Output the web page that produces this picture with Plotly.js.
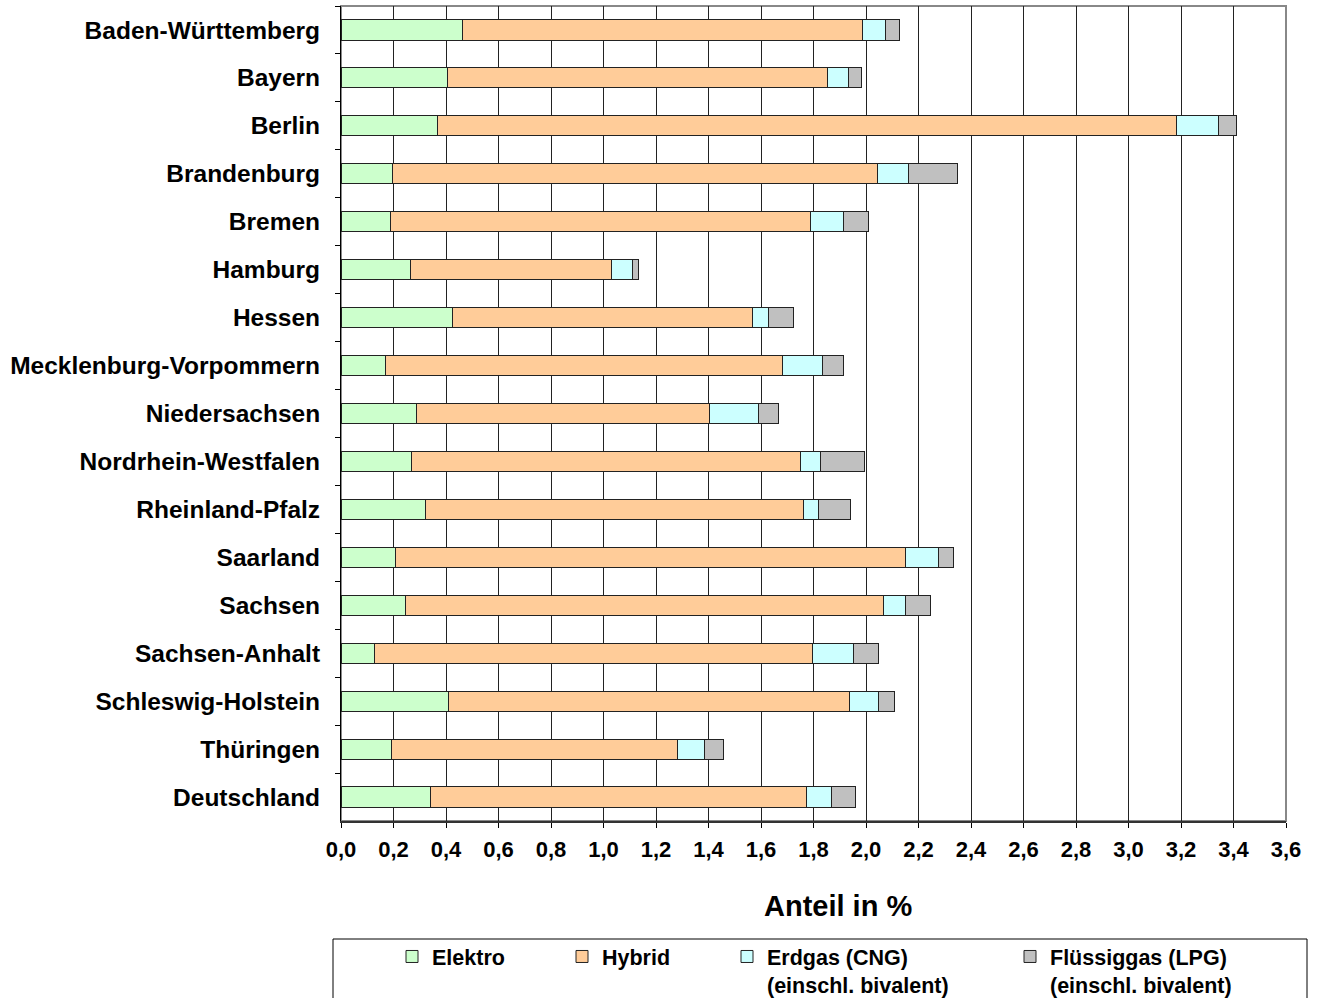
<!DOCTYPE html>
<html>
<head>
<meta charset="utf-8">
<script src="https://cdn.plot.ly/plotly-3.0.1.min.js"></script>
<style>
html,body{margin:0;padding:0;background:#fff;width:1318px;height:998px;overflow:hidden;}
#chart{width:1318px;height:998px;overflow:hidden;position:relative;}
</style>
</head>
<body>
<div id="chart"></div>
<script>
const categories = ["Baden-Württemberg","Bayern","Berlin","Brandenburg","Bremen","Hamburg","Hessen","Mecklenburg-Vorpommern","Niedersachsen","Nordrhein-Westfalen","Rheinland-Pfalz","Saarland","Sachsen","Sachsen-Anhalt","Schleswig-Holstein","Thüringen","Deutschland"];
const elektro = [0.464,0.407,0.366,0.196,0.188,0.263,0.426,0.169,0.286,0.270,0.323,0.206,0.244,0.129,0.411,0.191,0.340];
const hybrid  = [1.521,1.446,2.817,1.847,1.601,0.768,1.140,1.514,1.117,1.481,1.440,1.945,1.822,1.666,1.528,1.089,1.433];
const cng     = [0.090,0.082,0.161,0.117,0.126,0.080,0.064,0.150,0.188,0.076,0.057,0.126,0.085,0.159,0.110,0.105,0.095];
const lpg     = [0.051,0.048,0.067,0.188,0.096,0.022,0.092,0.080,0.077,0.169,0.121,0.056,0.095,0.095,0.060,0.073,0.092];
const seriesNames = ["Elektro","Hybrid","Erdgas (CNG)<br>(einschl. bivalent)","Flüssiggas (LPG)<br>(einschl. bivalent)"];
const tickVals = [0,0.2,0.4,0.6,0.8,1.0,1.2,1.4,1.6,1.8,2.0,2.2,2.4,2.6,2.8,3.0,3.2,3.4,3.6];

const FONT = '"Liberation Sans", Arial, Helvetica, sans-serif';
const colors = ["#CCFFCC","#FFCC99","#CCFFFF","#C0C0C0"];
const data = [elektro, hybrid, cng, lpg];
const legendIds = ["legend","legend2","legend3","legend4"];

const traces = data.map((vals, i) => ({
  type: 'bar',
  orientation: 'h',
  y: categories,
  x: vals,
  name: seriesNames[i],
  legend: legendIds[i],
  width: 0.42,
  marker: {color: colors[i], line: {color: '#222', width: 1}},
  hoverinfo: 'x+y+name'
}));

const W = 945, H = 815; // plot area size in px
const L = 341, T = 6;
function px(xp){ return (xp - L) / W; }
function py(yp){ return 1 - (yp - T) / H; }

const legendFont = {family: FONT, size: 21.5, color: '#000', weight: 700};
const textStarts = [429, 599, 764, 1047];
const legends = {};
legendIds.forEach((id, i) => {
  legends[id] = {
    xref: 'container', yref: 'container',
    x: (textStarts[i] - 37) / 1318, xanchor: 'left',
    y: 1 - 936 / 998, yanchor: 'top',
    orientation: 'v',
    bgcolor: 'rgba(0,0,0,0)', borderwidth: 0,
    font: legendFont,
    valign: 'top',
    tracegroupgap: 0
  };
});

const layout = Object.assign({
  width: 1318, height: 998,
  margin: {l: L, r: 1318 - 1286, t: T, b: 998 - 821, pad: 0, autoexpand: false},
  paper_bgcolor: '#fff', plot_bgcolor: '#fff',
  barmode: 'stack',
  separators: ', ',
  font: {family: FONT, color: '#000'},
  showlegend: true,
  xaxis: {
    range: [0, 3.6], tickvals: tickVals, tickformat: '.1f',
    showgrid: true, gridcolor: '#222', gridwidth: 1,
    ticks: 'outside', ticklen: 5, tickcolor: '#000', tickwidth: 1,
    showline: true, linecolor: '#333', linewidth: 2,
    zeroline: false,
    ticklabelstandoff: 3,
    tickfont: {family: FONT, size: 22, color: '#000', weight: 700},
    fixedrange: true
  },
  yaxis: {
    type: 'category', autorange: 'reversed',
    showgrid: false, zeroline: false,
    ticks: 'outside', tickson: 'boundaries', ticklen: 5, tickcolor: '#000',
    showline: true, linecolor: '#000', linewidth: 1,
    ticklabelstandoff: 15,
    tickfont: {family: FONT, size: 24.5, color: '#000', weight: 700},
    fixedrange: true
  },
  shapes: [
    {type: 'rect', xref: 'paper', yref: 'paper', x0: 0, x1: 1, y0: 0, y1: 1,
     line: {color: '#888', width: 2}, layer: 'below'},
    {type: 'rect', xref: 'paper', yref: 'paper', x0: px(333), x1: px(1307), y0: py(939), y1: py(1000),
     line: {color: '#000', width: 1}, fillcolor: 'rgba(0,0,0,0)', layer: 'above'}
  ],
  annotations: [
    {text: 'Anteil in %', xref: 'paper', yref: 'paper', x: px(838), y: py(906),
     xanchor: 'center', yanchor: 'middle', showarrow: false,
     font: {family: FONT, size: 29, color: '#000', weight: 700}}
  ]
}, legends);

Plotly.newPlot('chart', traces, layout, {displayModeBar: false, staticPlot: true});
</script>
</body>
</html>
